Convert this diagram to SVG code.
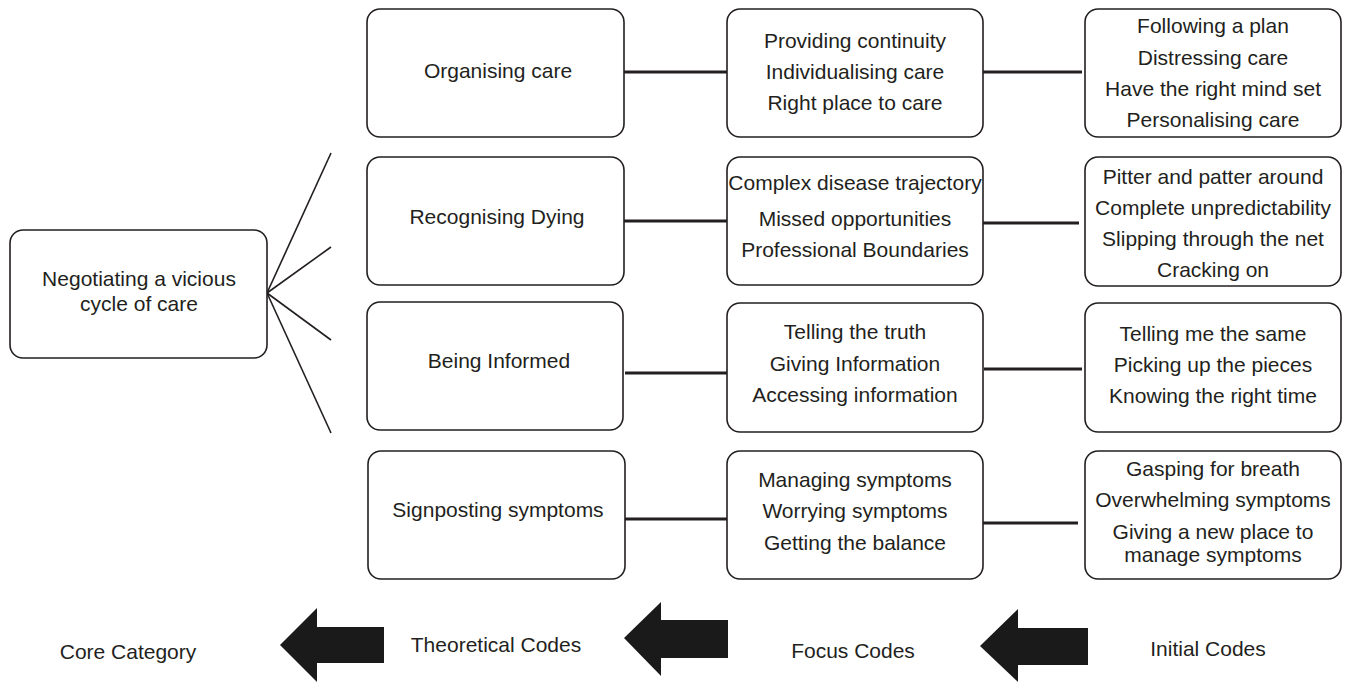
<svg xmlns="http://www.w3.org/2000/svg" width="1346" height="682" viewBox="0 0 1346 682">
<style>
.box{fill:#fff;stroke:#231f20;stroke-width:1.6}
.t{font-family:"Liberation Sans",Arial,sans-serif;font-size:21px;fill:#231f20;text-anchor:middle}
.c{stroke:#231f20;stroke-width:3;fill:none}
.f{stroke:#231f20;stroke-width:1.6;fill:none}
.arr{fill:#1a1a1a}
</style>
<rect width="1346" height="682" fill="#fff"/>
<g id="connectors">
<line class="f" x1="267" y1="293" x2="331" y2="153"/>
<line class="f" x1="267" y1="293" x2="331" y2="247"/>
<line class="f" x1="267" y1="293" x2="331" y2="340"/>
<line class="f" x1="267" y1="293" x2="331" y2="433"/>
<line class="c" x1="618" y1="72" x2="733" y2="72"/>
<line class="c" x1="983" y1="72" x2="1082" y2="72"/>
<line class="c" x1="618" y1="221" x2="733" y2="221"/>
<line class="c" x1="982" y1="223" x2="1079" y2="223"/>
<line class="c" x1="625" y1="373" x2="739" y2="373"/>
<line class="c" x1="984" y1="369" x2="1082" y2="369"/>
<line class="c" x1="625" y1="519" x2="728" y2="519"/>
<line class="c" x1="981" y1="523" x2="1078" y2="523"/>
</g>
<g id="core">
<rect class="box" x="10" y="230" width="257" height="128" rx="13"/>
<text class="t" x="139" y="286">Negotiating a vicious</text>
<text class="t" x="139" y="311">cycle of care</text>
</g>
<g id="organising">
<rect class="box" x="367" y="9" width="257" height="128" rx="13"/>
<text class="t" x="498" y="78">Organising care</text>
</g>
<g id="recognising">
<rect class="box" x="367" y="157" width="257" height="128" rx="13"/>
<text class="t" x="497" y="224">Recognising Dying</text>
</g>
<g id="informed">
<rect class="box" x="367" y="302" width="256" height="128" rx="13"/>
<text class="t" x="499" y="368">Being Informed</text>
</g>
<g id="signposting">
<rect class="box" x="368" y="451" width="257" height="128" rx="13"/>
<text class="t" x="498" y="517">Signposting symptoms</text>
</g>
<g id="focus1">
<rect class="box" x="727" y="9" width="256" height="128" rx="13"/>
<text class="t" x="855" y="48">Providing continuity</text>
<text class="t" x="855" y="79">Individualising care</text>
<text class="t" x="855" y="110">Right place to care</text>
</g>
<g id="focus2">
<rect class="box" x="727" y="157" width="256" height="128" rx="13"/>
<text class="t" x="855" y="190">Complex disease trajectory</text>
<text class="t" x="855" y="226">Missed opportunities</text>
<text class="t" x="855" y="257">Professional Boundaries</text>
</g>
<g id="focus3">
<rect class="box" x="727" y="303" width="256" height="129" rx="13"/>
<text class="t" x="855" y="339">Telling the truth</text>
<text class="t" x="855" y="371">Giving Information</text>
<text class="t" x="855" y="402">Accessing information</text>
</g>
<g id="focus4">
<rect class="box" x="727" y="451" width="256" height="128" rx="13"/>
<text class="t" x="855" y="487">Managing symptoms</text>
<text class="t" x="855" y="518">Worrying symptoms</text>
<text class="t" x="855" y="550">Getting the balance</text>
</g>
<g id="initial1">
<rect class="box" x="1085" y="9" width="256" height="128" rx="13"/>
<text class="t" x="1213" y="33">Following a plan</text>
<text class="t" x="1213" y="65">Distressing care</text>
<text class="t" x="1213" y="96">Have the right mind set</text>
<text class="t" x="1213" y="127">Personalising care</text>
</g>
<g id="initial2">
<rect class="box" x="1085" y="157" width="256" height="129" rx="13"/>
<text class="t" x="1213" y="184">Pitter and patter around</text>
<text class="t" x="1213" y="215">Complete unpredictability</text>
<text class="t" x="1213" y="246">Slipping through the net</text>
<text class="t" x="1213" y="277">Cracking on</text>
</g>
<g id="initial3">
<rect class="box" x="1085" y="303" width="256" height="129" rx="13"/>
<text class="t" x="1213" y="341">Telling me the same</text>
<text class="t" x="1213" y="372">Picking up the pieces</text>
<text class="t" x="1213" y="403">Knowing the right time</text>
</g>
<g id="initial4">
<rect class="box" x="1085" y="451" width="256" height="128" rx="13"/>
<text class="t" x="1213" y="476">Gasping for breath</text>
<text class="t" x="1213" y="507">Overwhelming symptoms</text>
<text class="t" x="1213" y="539">Giving a new place to</text>
<text class="t" x="1213" y="562">manage symptoms</text>
</g>
<g id="legend">
<text class="t" x="128" y="659">Core Category</text>
<polygon class="arr" points="280,645 317,608 317,627 384,627 384,663 317,663 317,682"/>
<text class="t" x="496" y="652">Theoretical Codes</text>
<polygon class="arr" points="624,638 661,602 661,620 728,620 728,658 661,658 661,676"/>
<text class="t" x="853" y="658">Focus Codes</text>
<polygon class="arr" points="980,646 1018,609 1018,628 1088,628 1088,665 1018,665 1018,682"/>
<text class="t" x="1208" y="656">Initial Codes</text>
</g>
</svg>
